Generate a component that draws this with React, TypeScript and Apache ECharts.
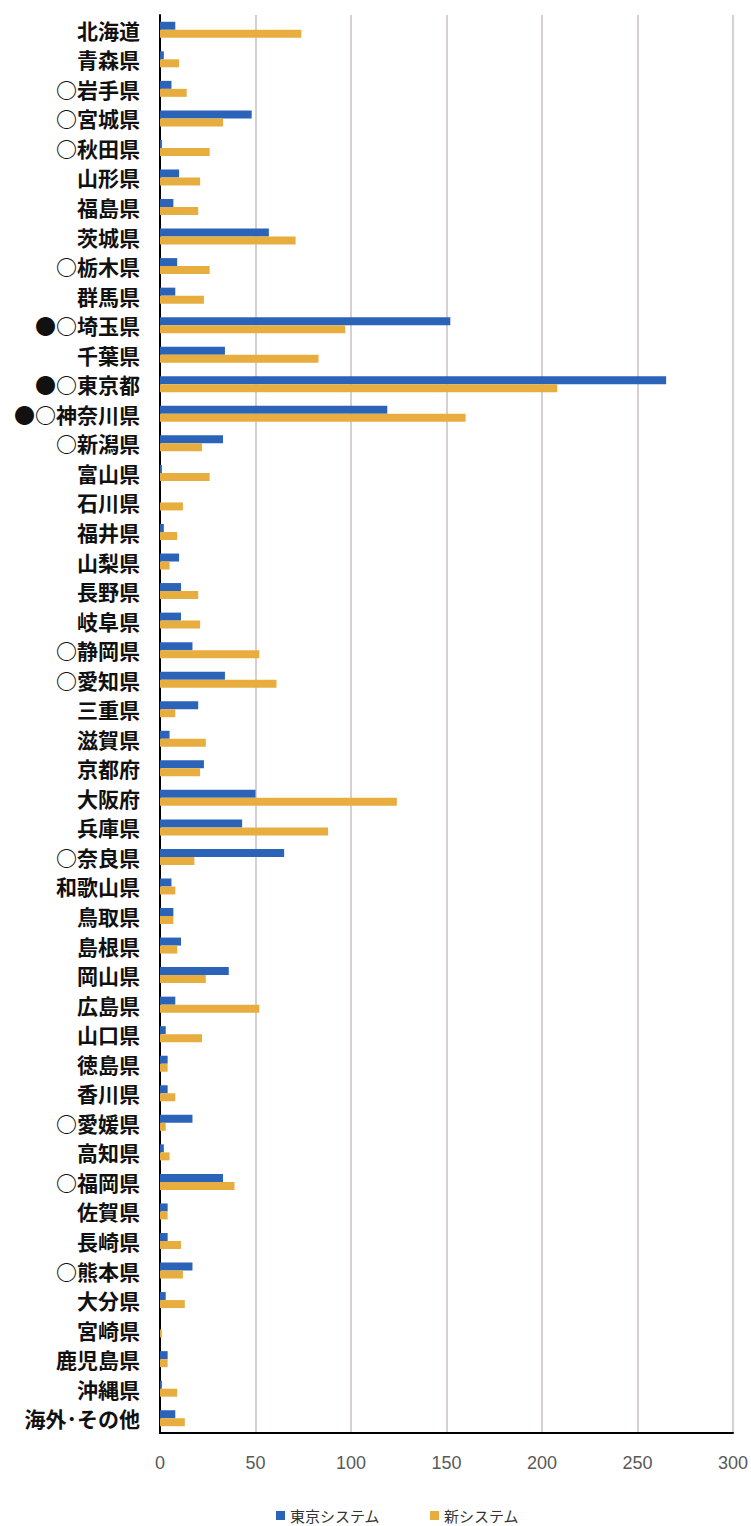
import React, { useEffect, useRef } from "react";
import * as echarts from "echarts";

const categories = ["北海道","青森県","○岩手県","○宮城県","○秋田県","山形県","福島県","茨城県","○栃木県","群馬県","●○埼玉県","千葉県","●○東京都","●○神奈川県","○新潟県","富山県","石川県","福井県","山梨県","長野県","岐阜県","○静岡県","○愛知県","三重県","滋賀県","京都府","大阪府","兵庫県","○奈良県","和歌山県","鳥取県","島根県","岡山県","広島県","山口県","徳島県","香川県","○愛媛県","高知県","○福岡県","佐賀県","長崎県","○熊本県","大分県","宮崎県","鹿児島県","沖縄県","海外･その他"];

const tokyoSystem = [8,2,6,48,1,10,7,57,9,8,152,34,265,119,33,1,0,2,10,11,11,17,34,20,5,23,50,43,65,6,7,11,36,8,3,4,4,17,2,33,4,4,17,3,0,4,1,8];
const newSystem = [74,10,14,33,26,21,20,71,26,23,97,83,208,160,22,26,12,9,5,20,21,52,61,8,24,21,124,88,18,8,7,9,24,52,22,4,8,3,5,39,4,11,12,13,1,4,9,13];

const seriesNames = ["東京システム", "新システム"];
const xTicks = { min: 0, max: 300, interval: 50 };

export default function App() {
  const ref = useRef<HTMLDivElement>(null);
  useEffect(() => {
    if (!ref.current) return;
    const chart = echarts.init(ref.current, undefined, { renderer: "svg" });
    chart.setOption({
      animation: false,
      backgroundColor: "#ffffff",
      grid: { left: 160, right: 18, top: 15, bottom: 93, containLabel: false },
      legend: {
        data: seriesNames,
        left: 271,
        top: 1503,
        itemWidth: 9,
        itemHeight: 9,
        itemGap: 50,
        icon: "rect",
        textStyle: { fontFamily: "Noto Sans CJK JP", fontSize: 15, color: "#333333" },
      },
      xAxis: {
        type: "value",
        min: xTicks.min,
        max: xTicks.max,
        interval: xTicks.interval,
        axisLine: { show: true, lineStyle: { color: "#000000", width: 2 } },
        axisTick: { show: false },
        axisLabel: {
          margin: 21,
          fontFamily: "Liberation Sans Narrow, Liberation Sans, Arial",
          fontSize: 18,
          color: "#595959",
        },
        splitLine: { show: true, lineStyle: { color: "#c9c0c0", width: 1.5 } },
      },
      yAxis: {
        type: "category",
        data: categories,
        inverse: true,
        axisLine: { show: true, lineStyle: { color: "#000000", width: 2 } },
        axisTick: { show: false },
        axisLabel: {
          margin: 20,
          fontFamily: "Noto Sans CJK JP",
          fontSize: 21,
          fontWeight: "bold",
          color: "#111111",
          interval: 0,
        },
        splitLine: { show: false },
      },
      series: [
        {
          name: seriesNames[0],
          type: "bar",
          data: tokyoSystem,
          barWidth: 8,
          barGap: "0%",
          itemStyle: { color: "#2b63b8" },
        },
        {
          name: seriesNames[1],
          type: "bar",
          data: newSystem,
          barWidth: 8,
          barGap: "0%",
          itemStyle: { color: "#e7ae3f" },
        },
      ],
    });
    return () => chart.dispose();
  }, []);
  return (
    <div
      ref={ref}
      style={{ position: "fixed", left: 0, top: 0, width: 751, height: 1526, background: "#fff" }}
    />
  );
}
